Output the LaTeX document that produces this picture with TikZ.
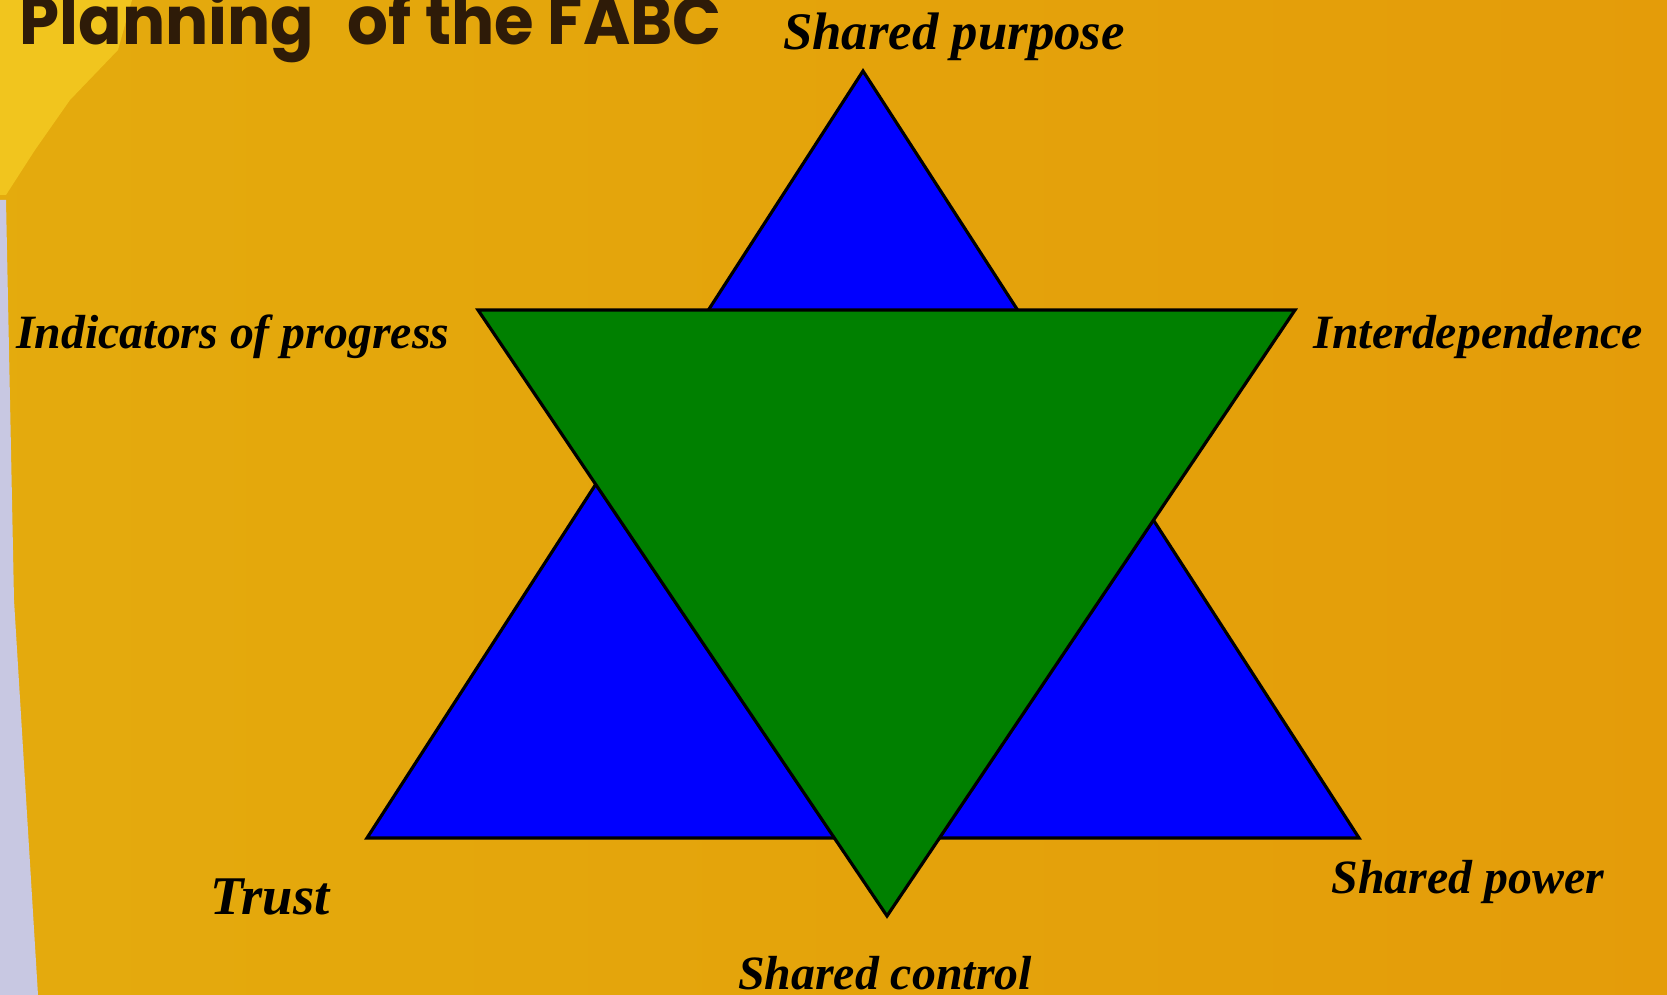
\documentclass[tikz,border=0pt]{standalone}
\usepackage{fontspec}
\setmainfont{Liberation Serif}
\newfontfamily\titlefont{Poppins}[FakeStretch=0.96]
\usetikzlibrary{positioning}
\definecolor{fabcWall}{HTML}{E2A60A}
\definecolor{fabcSun}{HTML}{F1C51E}
\definecolor{fabcLav}{HTML}{C8C8E2}
\definecolor{fabcBlue}{HTML}{0000FF}
\definecolor{fabcGreen}{HTML}{008000}
\definecolor{fabcTitle}{HTML}{2E1B08}
\tikzset{
  tri/.style={draw=black, line width=0.9pt, line join=miter},
  lbl/.style={font=\fontsize{13.6}{16}\selectfont\bfseries\itshape, inner sep=0pt},
  ttl/.style={font=\titlefont\fontsize{19}{22}\selectfont\bfseries, text=fabcTitle, inner sep=0pt},
}
\begin{document}
\begin{tikzpicture}[x=0.01cm,y=-0.01cm]
  \useasboundingbox (0,0) rectangle (1667,995);
  % wall
  \fill[left color=fabcWall!85!fabcSun, right color=fabcWall!94!red] (0,0) rectangle (1667,995);
  \fill[fabcSun] (0,0) -- (132,0) -- (118,50) -- (70,100) -- (35,150) -- (6,195) -- (0,195) -- cycle;
  \fill[fabcLav] (0,200) -- (6,200) -- (14,600) -- (38,995) -- (0,995) -- cycle;
  % star corners
  \coordinate (purposeTip) at (863,71);
  \coordinate (trustTip) at (367,838);
  \coordinate (powerTip) at (1359,838);
  \coordinate (progressTip) at (478,310);
  \coordinate (interTip) at (1295,310);
  \coordinate (controlTip) at (887,916);
  \draw[tri,fill=fabcBlue] (purposeTip) -- (powerTip) -- (trustTip) -- cycle;
  \draw[tri,fill=fabcGreen] (progressTip) -- (interTip) -- (controlTip) -- cycle;
  % title and labels
  \node[ttl,anchor=base west] (title) at (19,45) {Planning\hspace{0.3em} of the FABC};
  \node[lbl,anchor=base,font=\fontsize{15}{18}\selectfont\bfseries\itshape] (purpose) at (954,50) {Shared purpose};
  \node[lbl,anchor=base east] (progress) at (450,349) {Indicators of progress};
  \node[lbl,anchor=base west] (inter) at (1313,349) {Interdependence};
  \node[lbl,anchor=base,font=\fontsize{15.5}{18}\selectfont\bfseries\itshape] (trust) at (270,914) {Trust};
  \node[lbl,anchor=base west] (power) at (1331,893) {Shared power};
  \node[lbl,anchor=base] (control) at (885,989) {Shared control};
\end{tikzpicture}
\end{document}
